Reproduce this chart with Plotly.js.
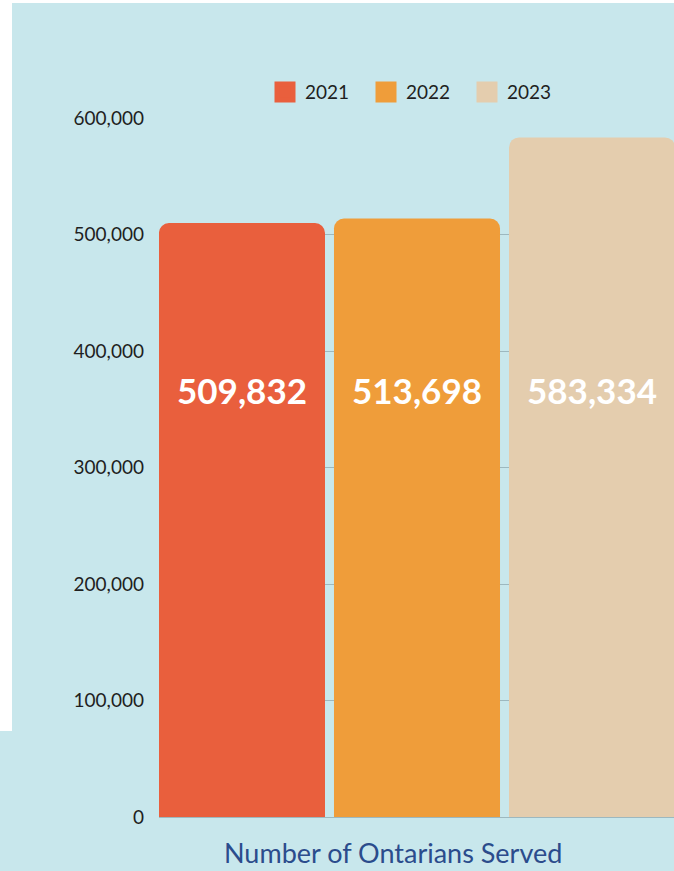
<!DOCTYPE html>
<html>
<head>
<meta charset="utf-8">
<script src="https://cdn.plot.ly/plotly-3.0.1.min.js"></script>
<style>
  html, body { margin: 0; padding: 0; background: #ffffff; overflow: hidden; }
  #wrap { position: relative; width: 674px; height: 871px; }
  #chart { position: absolute; left: 0; top: 0; width: 674px; height: 871px; }
  .white { position: absolute; background: #ffffff; pointer-events: none; }
</style>
</head>
<body>
<div id="wrap">
  <div id="chart"></div>
  <div class="white" style="left:0;top:0;width:12px;height:731px;"></div>
  <div class="white" style="left:0;top:0;width:674px;height:3px;"></div>
</div>
<script>
// ---- data ----
const category = ['Number of Ontarians Served'];
const years = ['2021', '2022', '2023'];
const served = [509832, 513698, 583334];
const yTickVals = [0, 100000, 200000, 300000, 400000, 500000, 600000];
const yTickText = ['0', '100,000', '200,000', '300,000', '400,000', '500,000', '600,000'];
const colors = ['#E95F3D', '#EF9D3A', '#E4CDAE'];

const FONT = 'Lato, "Open Sans", sans-serif';
const labelLevel = 366500; // vertical level of the value labels

const barTraces = years.map((yr, i) => ({
  type: 'bar',
  name: yr,
  legendgroup: yr,
  showlegend: false,
  x: category,
  y: [served[i]],
  marker: { color: colors[i], cornerradius: 10, line: { width: 0 } },
  hoverinfo: 'skip'
}));

// legend entries (square swatches)
const legendTraces = years.map((yr, i) => ({
  type: 'scatter',
  mode: 'markers',
  name: yr,
  legendgroup: yr,
  showlegend: true,
  x: [null],
  y: [null],
  marker: { symbol: 'square', size: 16, color: colors[i], line: { width: 5, color: colors[i] } },
  hoverinfo: 'skip'
}));

const n = years.length;
const annotations = served.map((v, i) => ({
  xref: 'x', yref: 'y',
  x: (i - (n - 1) / 2) / n,
  y: labelLevel,
  text: v.toLocaleString('en-US'),
  showarrow: false,
  font: { family: FONT, size: 35, color: '#ffffff', weight: 'bold' },
  xanchor: 'center', yanchor: 'middle'
}));
annotations.push({
  xref: 'paper', yref: 'paper',
  x: 0.4544, y: -0.0773,
  text: category[0],
  showarrow: false,
  font: { family: FONT, size: 27, color: '#2B4C8C' },
  xanchor: 'center', yanchor: 'bottom'
});

const layout = {
  width: 674, height: 871,
  margin: { l: 159, r: 0, t: 118, b: 54, pad: 0 },
  paper_bgcolor: '#C8E7EC',
  plot_bgcolor: '#C8E7EC',
  barmode: 'group',
  bargap: 0,
  bargroupgap: 0.0514,
  font: { family: FONT, color: '#1f1f1f' },
  xaxis: {
    type: 'category',
    range: [-0.4914, 0.4895],
    showticklabels: false,
    showgrid: false,
    zeroline: false,
    showline: false,
    ticks: ''
  },
  yaxis: {
    range: [0, 600000],
    tickvals: yTickVals,
    ticktext: yTickText,
    tickfont: { family: FONT, size: 19, color: '#1f1f1f' },
    ticks: '',
    ticklabelstandoff: 14,
    showgrid: true,
    gridcolor: '#9DB8BF',
    gridwidth: 1,
    zeroline: true,
    zerolinecolor: '#9DB8BF',
    zerolinewidth: 1,
    showline: false
  },
  showlegend: true,
  legend: {
    orientation: 'h',
    x: 0.5, xanchor: 'center',
    y: 1.037, yanchor: 'middle',
    font: { family: FONT, size: 19, color: '#1f1f1f' },
    bgcolor: 'rgba(0,0,0,0)',
    traceorder: 'normal',
    entrywidth: 56,
    entrywidthmode: 'pixels'
  },
  annotations: annotations
};

Plotly.newPlot('chart', barTraces.concat(legendTraces), layout, { displayModeBar: false, staticPlot: true });
</script>
</body>
</html>
